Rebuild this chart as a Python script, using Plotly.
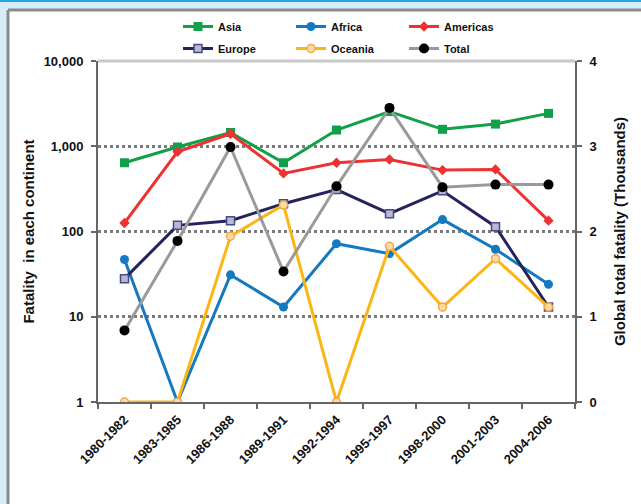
import plotly.graph_objects as go

periods = ["1980-1982", "1983-1985", "1986-1988", "1989-1991", "1992-1994",
           "1995-1997", "1998-2000", "2001-2003", "2004-2006"]

asia = [640, 980, 1450, 640, 1550, 2550, 1580, 1820, 2430]
africa = [47, 1, 31, 13, 72, 55, 138, 62, 24]
americas = [126, 860, 1400, 480, 640, 700, 525, 535, 134]
europe = [28, 118, 134, 212, 310, 162, 300, 114, 13]
oceania = [1, 1, 88, 205, 1, 67, 13, 48, 13]
total_thousands = [0.84, 1.89, 2.99, 1.53, 2.53, 3.45, 2.52, 2.55, 2.55]

FONT = "Liberation Sans, Arial, sans-serif"

# plot area in pixels: left 98, right 575, top 61, bottom 402
L, R, T, B = 98, 575, 61, 402
W, H = 641, 504


def px_x(p):
    return (p - L) / (R - L)


def px_y(p):
    return (B - p) / (B - T)


fig = go.Figure()

series = [
    ("Asia", asia, "#10a04a", dict(symbol="square", size=9, color="#10a04a"), "legend"),
    ("Africa", africa, "#1479c0", dict(symbol="circle", size=9, color="#1479c0"), "legend"),
    ("Americas", americas, "#ee3131", dict(symbol="diamond", size=8, color="#ee3131"), "legend"),
    ("Europe", europe, "#23235e", dict(symbol="square", size=8, color="#b9b9d6",
                                       line=dict(color="#4a4a80", width=1.5)), "legend2"),
    ("Oceania", oceania, "#fbb515", dict(symbol="circle", size=8, color="#fbdca4",
                                         line=dict(color="#f3a64a", width=1.5)), "legend2"),
]

for name, vals, col, mk, lg in series:
    fig.add_trace(go.Scatter(
        x=periods, y=vals, name=name, mode="lines+markers",
        line=dict(color=col, width=3), marker=mk, legend=lg, yaxis="y",
    ))

fig.add_trace(go.Scatter(
    x=periods, y=total_thousands, name="Total", mode="lines+markers",
    line=dict(color="#9a9a9a", width=3),
    marker=dict(symbol="circle", size=10, color="#000000"),
    legend="legend2", yaxis="y2",
))

tick_font = dict(family=FONT, size=13, color="#111111", weight="bold")
title_font = dict(family=FONT, size=15, color="#111111", weight="bold")
legend_font = dict(family=FONT, size=11, color="#111111", weight="bold")

fig.update_layout(
    width=W, height=H,
    margin=dict(l=L, r=W - R, t=T, b=H - B),
    paper_bgcolor="#ffffff",
    plot_bgcolor="#ffffff",
    font=dict(family=FONT, color="#111111"),
    xaxis=dict(
        type="category", tickangle=-45, tickfont=tick_font,
        showline=True, linecolor="#666666", linewidth=2,
        ticks="outside", ticklen=5, tickcolor="#666666", tickwidth=1.5,
        tickson="boundaries", showgrid=False, mirror=False,
        range=[-0.5, 8.5], ticklabelstandoff=3,
    ),
    yaxis=dict(
        type="log", range=[0, 4],
        tickvals=[1, 10, 100, 1000, 10000],
        ticktext=["1", "10", "100", "1,000", "10,000"],
        tickfont=tick_font,
        showline=True, linecolor="#666666", linewidth=2,
        ticks="outside", ticklen=5, tickcolor="#666666", tickwidth=1.5,
        ticklabelstandoff=5,
        showgrid=True, gridcolor="#7a7a7a", gridwidth=2.5, griddash="dot",
        zeroline=False,
        title=dict(text="Fatality  in each continent", font=title_font, standoff=5),
    ),
    yaxis2=dict(
        overlaying="y", side="right", range=[0, 4],
        tickvals=[0, 1, 2, 3, 4], tickfont=tick_font,
        showline=True, linecolor="#666666", linewidth=2,
        ticks="outside", ticklen=5, tickcolor="#666666", tickwidth=1.5,
        ticklabelstandoff=5,
        showgrid=False, zeroline=False,
        title=dict(text="Global total fatality (Thousands)", font=title_font, standoff=18),
    ),
    legend=dict(
        orientation="h", x=px_x(178), y=px_y(12), xanchor="left", yanchor="top",
        font=legend_font,
        entrywidth=68, entrywidthmode="pixels", bgcolor="rgba(0,0,0,0)",
        itemwidth=30, tracegroupgap=0,
    ),
    legend2=dict(
        orientation="h", x=px_x(178), y=px_y(34), xanchor="left", yanchor="top",
        font=legend_font,
        entrywidth=68, entrywidthmode="pixels", bgcolor="rgba(0,0,0,0)",
        itemwidth=30, tracegroupgap=0,
    ),
    showlegend=True,
)

shapes = [
    # light blue surround
    dict(type="rect", xref="paper", yref="paper", x0=px_x(0), x1=px_x(W), y0=px_y(0), y1=px_y(9),
         fillcolor="#d4edf9", line=dict(width=0), layer="below"),
    dict(type="rect", xref="paper", yref="paper", x0=px_x(0), x1=px_x(7), y0=px_y(0), y1=px_y(H),
         fillcolor="#d4edf9", line=dict(width=0), layer="below"),
    # bright blue top rule
    dict(type="rect", xref="paper", yref="paper", x0=px_x(0), x1=px_x(W), y0=px_y(0), y1=px_y(2),
         fillcolor="#22a7e4", line=dict(width=0), layer="below"),
    # grey panel edges
    dict(type="line", xref="paper", yref="paper", x0=px_x(8), x1=px_x(W), y0=px_y(10), y1=px_y(10),
         line=dict(color="#8a8a8a", width=3), layer="below"),
    dict(type="line", xref="paper", yref="paper", x0=px_x(8), x1=px_x(8), y0=px_y(10), y1=px_y(H),
         line=dict(color="#8a8a8a", width=3), layer="below"),
    # plot-area top border
    dict(type="line", xref="paper", yref="paper", x0=0, x1=1, y0=1, y1=1,
         line=dict(color="#c8c8c8", width=3), layer="below"),
]
fig.update_layout(shapes=shapes)

fig.write_html("out.html")
